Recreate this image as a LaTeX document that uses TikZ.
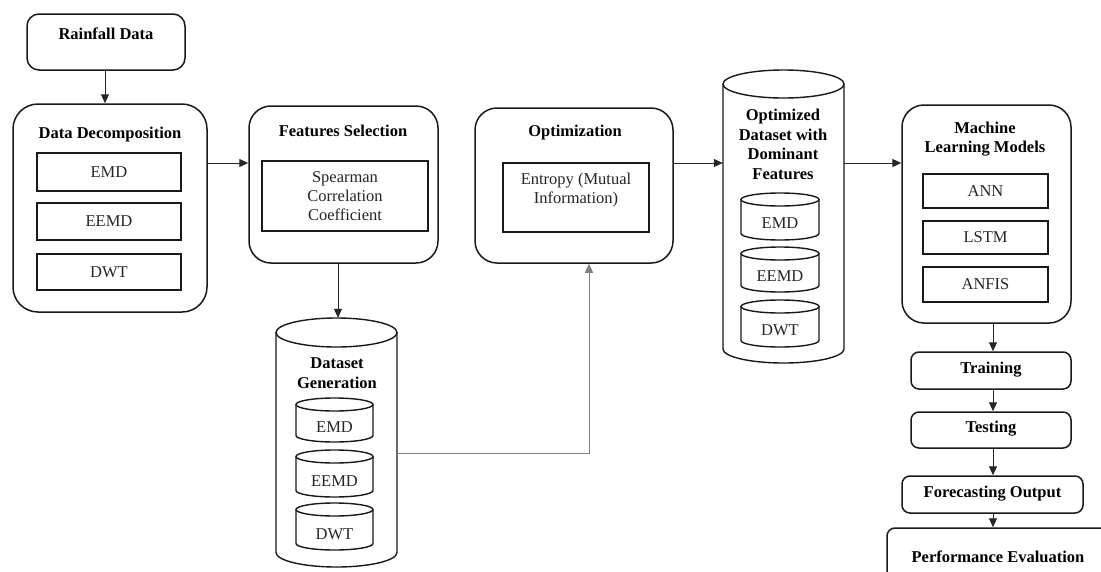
\documentclass[tikz,border=0pt]{standalone}
\usepackage{fontspec}
\setmainfont{Liberation Serif}
\usetikzlibrary{arrows.meta}
\tikzset{
  outer/.style={draw=black!90, line width=1.5pt, rounded corners=#1, inner sep=0pt},
  outer/.default=22pt,
  inbox/.style={draw=black!90, line width=1.4pt, inner sep=0pt, align=center, font=\fontsize{16.5}{19}\selectfont, text=black!85},
  ttl/.style={font=\bfseries\fontsize{16.5}{19.5}\selectfont, align=center, text=black, inner sep=0pt},
  txt/.style={font=\fontsize{16.5}{19}\selectfont, align=center, text=black!85, inner sep=0pt},
  cylline/.style={draw=black!90, line width=1.4pt},
  arr/.style={-{Triangle[length=9pt,width=8pt]}, line width=1pt, draw=black!85},
  garr/.style={-{Triangle[length=9pt,width=8pt]}, line width=1pt, draw=black!50},
}
% cylinder: name, cx, half width, top, bottom, ry
\newcommand{\mycyl}[6]{%
  \node[inner sep=0pt, minimum width={2*#3*1pt}, minimum height={(#5-#4)*1pt}] (#1) at (#2,{(#4+#5)/2}) {};
  \draw[cylline] (#2,{#4+#6}) ellipse [x radius=#3pt, y radius=#6pt];
  \draw[cylline] ({#2-#3},{#4+#6}) -- ({#2-#3},{#5-#6})
     arc[start angle=180, end angle=360, x radius=#3pt, y radius=#6pt]
     -- ({#2+#3},{#4+#6});
}
\begin{document}
\begin{tikzpicture}[x=1pt, y=-1pt]
\clip (0,0) rectangle (1101,571);
\fill[white] (0,0) rectangle (1101,571);

% Rainfall data
\node[outer=12pt, minimum width=158pt, minimum height=56pt] (RF) at (106,42) {};
\node[ttl] (RFt) at (106,34) {Rainfall Data};

% Data decomposition
\node[outer=25pt, minimum width=194pt, minimum height=208pt] (DD) at (110,208) {};
\node[ttl] (DDt) at (110,135) {Data Decomposition};
\node[inbox, minimum width=144pt, minimum height=38pt] (DD1) at (109,172) {EMD};
\node[inbox, minimum width=144pt, minimum height=37pt] (DD2) at (109,221.5) {EEMD};
\node[inbox, minimum width=144pt, minimum height=36pt] (DD3) at (109,272) {DWT};

% Features selection
\node[outer=22pt, minimum width=189pt, minimum height=157pt] (FS) at (343.5,184.5) {};
\node[ttl] (FSt) at (343,131) {Features Selection};
\node[inbox, minimum width=166pt, minimum height=70pt] (FS1) at (345,196) {Spearman\\Correlation\\Coefficient};

% Optimization
\node[outer=22pt, minimum width=198pt, minimum height=155pt] (OP) at (574,185.5) {};
\node[ttl] (OPt) at (575,133) {Optimization};
\node[inbox, minimum width=146pt, minimum height=69pt] (OP1) at (576,197.5) {};
\node[txt] (OP1t) at (576,190.5) {Entropy (Mutual\\Information)};

% Dataset generation cylinder
\mycyl{DG}{336.5}{60.5}{318}{567}{14.5}
\node[ttl] (DGt) at (337,373) {Dataset\\Generation};
\mycyl{DG1}{334.5}{38.5}{398}{442}{6.5}
\mycyl{DG2}{334.5}{38.5}{450}{497}{6.5}
\mycyl{DG3}{334.5}{38.5}{503}{550}{6.5}
\node[txt] at (334.5,427.5) {EMD};
\node[txt] at (334.5,481) {EEMD};
\node[txt] at (334.5,534) {DWT};

% Optimized dataset cylinder
\mycyl{OD}{783.5}{60.5}{70}{363}{14}
\node[ttl] (ODt) at (783,144.5) {Optimized\\Dataset with\\Dominant\\Features};
\mycyl{OD1}{780}{39}{193}{240}{6.5}
\mycyl{OD2}{780}{39}{247}{292}{6.5}
\mycyl{OD3}{780}{39}{300}{347}{6.5}
\node[txt] at (780,223.5) {EMD};
\node[txt] at (780,276) {EEMD};
\node[txt] at (780,330.5) {DWT};

% Machine learning models
\node[outer=22pt, minimum width=169pt, minimum height=218pt] (ML) at (986.5,214) {};
\node[ttl] (MLt) at (985,139) {Machine\\Learning Models};
\node[inbox, minimum width=125pt, minimum height=34pt] (ML1) at (985.5,191) {ANN};
\node[inbox, minimum width=125pt, minimum height=33pt] (ML2) at (985.5,237.5) {LSTM};
\node[inbox, minimum width=125pt, minimum height=35pt] (ML3) at (985.5,284.5) {ANFIS};

% Lower chain
\node[outer=8pt, minimum width=160pt, minimum height=37pt] (TR) at (991,370.5) {};
\node[ttl] at (991,369.5) {Training};
\node[outer=8pt, minimum width=160pt, minimum height=36pt] (TE) at (991,430) {};
\node[ttl] at (991,429) {Testing};
\node[outer=8pt, minimum width=181pt, minimum height=37pt] (FO) at (992.5,494.5) {};
\node[ttl] at (992.5,494) {Forecasting Output};
\node[outer=8pt, minimum width=222pt, minimum height=62pt] (PE) at (998,559) {};
\node[ttl] at (998,557) {Performance Evaluation};

% connectors
\coordinate (lvl) at (0,163);
\coordinate (cRF) at (105,0);
\coordinate (cFS) at (338,0);
\coordinate (turn) at (589,453);
\coordinate (cML) at (993,0);

\draw[arr] (cRF |- RF.south) -- (cRF |- DD.north);
\draw[arr] (DD.east |- lvl) -- (FS.west |- lvl);
\draw[arr] (cFS |- FS.south) -- (cFS |- DG.north);
\draw[garr] (DG.east |- turn) -- (turn) -- (turn |- OP.south);
\draw[arr] (OP.east |- lvl) -- (OD.west |- lvl);
\draw[arr] (OD.east |- lvl) -- (ML.west |- lvl);
\draw[arr] (cML |- ML.south) -- (cML |- TR.north);
\draw[arr] (cML |- TR.south) -- (cML |- TE.north);
\draw[arr] (cML |- TE.south) -- (cML |- FO.north);
\draw[arr] (cML |- FO.south) -- (cML |- PE.north);
\end{tikzpicture}
\end{document}
